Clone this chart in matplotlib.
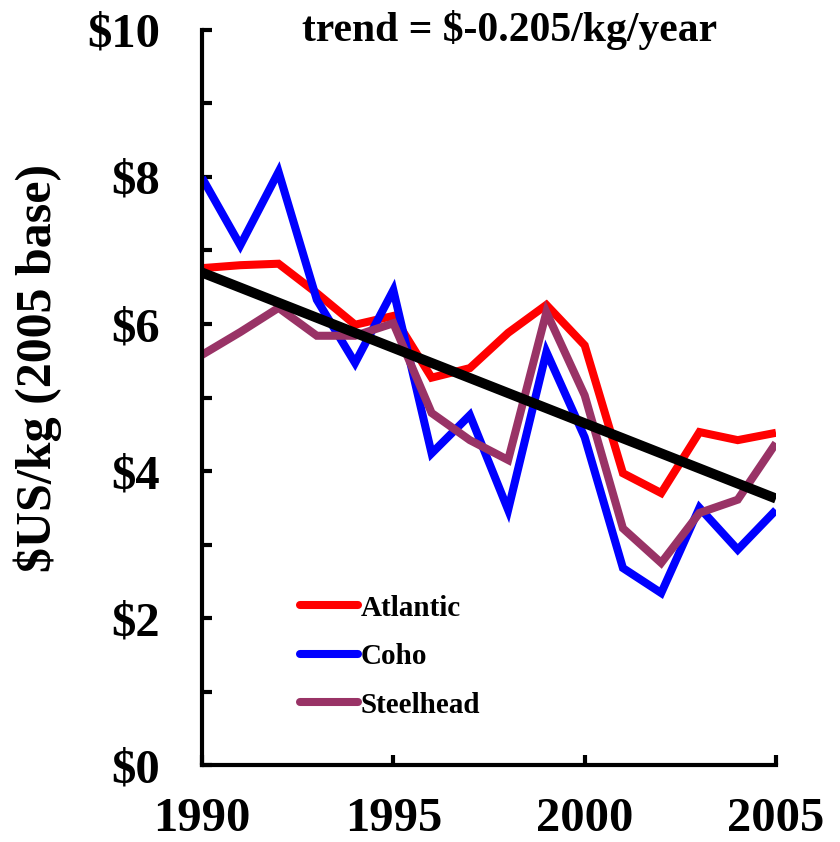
import matplotlib
matplotlib.use("Agg")
import matplotlib.pyplot as plt
import numpy as np
from matplotlib.ticker import MultipleLocator, FuncFormatter

years = list(range(1990, 2006))
atlantic = [6.76, 6.80, 6.82, 6.42, 5.99, 6.11, 5.27, 5.40, 5.88, 6.26, 5.71, 3.97, 3.70, 4.53, 4.42, 4.52]
coho = [7.99, 7.07, 8.07, 6.33, 5.47, 6.46, 4.24, 4.76, 3.47, 5.62, 4.46, 2.68, 2.34, 3.50, 2.93, 3.47]
steelhead = [5.58, 5.89, 6.22, 5.84, 5.84, 6.01, 4.79, 4.42, 4.15, 6.16, 5.03, 3.22, 2.75, 3.43, 3.61, 4.38]
trend_start = 6.70
trend_slope = -0.205
series_names = ["Atlantic", "Coho", "Steelhead"]
series_colors = ["#ff0000", "#0000ff", "#993366"]
title_text = "trend = $-0.205/kg/year"
ylabel_text = "$US/kg (2005 base)"

plt.rcParams['font.family'] = ['Liberation Serif', 'DejaVu Serif']
plt.rcParams['font.weight'] = 'bold'

fig = plt.figure(figsize=(8.4, 8.42), dpi=100)
ax = fig.add_axes([0.2405, 0.0914, 0.6833, 0.873])

for vals, name, col in zip([atlantic, coho, steelhead], series_names, series_colors):
    ax.plot(years, vals, color=col, lw=5.8, label=name, solid_capstyle='butt', solid_joinstyle='miter')

yrs = np.array(years)
ax.plot(yrs, trend_start + trend_slope * (yrs - yrs[0]), color='black', lw=7.2, solid_capstyle='butt')

ax.set_xlim(1990, 2005)
ax.set_ylim(0, 10)
ax.xaxis.set_major_locator(MultipleLocator(5))
ax.yaxis.set_major_locator(MultipleLocator(2))
ax.yaxis.set_minor_locator(MultipleLocator(1))
ax.yaxis.set_major_formatter(FuncFormatter(lambda v, p: f"${int(v)}"))

for s in ['top', 'right']:
    ax.spines[s].set_visible(False)
for s in ['left', 'bottom']:
    ax.spines[s].set_linewidth(3)

ax.tick_params(axis='both', which='both', direction='in', width=3, length=7)
ax.tick_params(axis='y', which='major', labelsize=35, pad=30)
ax.tick_params(axis='x', which='major', labelsize=35, pad=23)
for lab in ax.get_xticklabels() + ax.get_yticklabels():
    lab.set_fontweight('bold')

ax.set_ylabel(ylabel_text, fontsize=36, fontweight='bold')
ax.yaxis.set_label_coords(-0.244, 0.54)

ax.text(0.535, 1.0, title_text, transform=ax.transAxes, ha='center', va='center',
        fontsize=30, fontweight='bold')

leg = ax.legend(loc='upper left', bbox_to_anchor=(0.17, 0.232), frameon=False,
                fontsize=21, handlelength=2.0, handletextpad=0.1, labelspacing=0.74,
                borderpad=0, borderaxespad=0)
for t in leg.get_texts():
    t.set_fontweight('bold')
for h in leg.get_lines():
    h.set_solid_capstyle('round')

fig.savefig("out.png", dpi=100)
